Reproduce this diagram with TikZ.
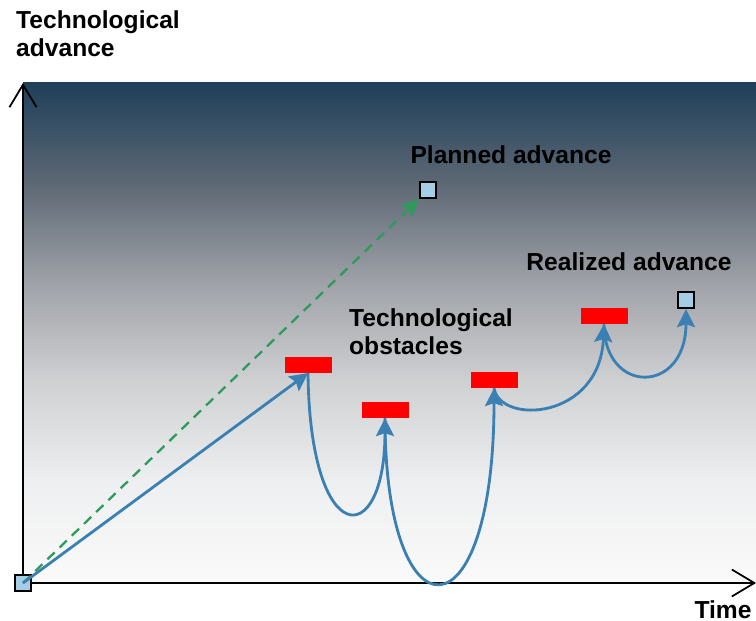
\documentclass[tikz,border=0pt]{standalone}
\usepackage{fontspec}
\setmainfont{Liberation Sans}
\usetikzlibrary{arrows.meta}
\definecolor{skytop}{HTML}{1F3F5A}
\definecolor{skyhi}{HTML}{5D6874}
\definecolor{skymid}{HTML}{9FA2A8}
\definecolor{skylow}{HTML}{D0D1D3}
\definecolor{skyfloor}{HTML}{EEEFF0}
\definecolor{skybot}{HTML}{FAFAFA}
\definecolor{pathblue}{HTML}{3A80B2}
\definecolor{plangreen}{HTML}{2F9A5C}
\definecolor{boxblue}{HTML}{A6CDE6}
\pgfdeclareverticalshading{sky}{100bp}{color(0bp)=(skybot); color(25bp)=(skybot); color(35bp)=(skyfloor); color(45bp)=(skylow); color(55bp)=(skymid); color(65bp)=(skyhi); color(75bp)=(skytop); color(100bp)=(skytop)}
\tikzset{
  lbl/.style={font=\fontsize{14}{16}\selectfont\bfseries, align=left},
  goal/.style={shape=rectangle, draw=black, line width=1.3pt, fill=boxblue, minimum size=0.32cm, inner sep=0pt},
  obstacle/.style={shape=rectangle, fill=red, minimum width=0.94cm, minimum height=0.31cm, inner sep=0pt},
  real/.style={draw=pathblue, line width=1.6pt, -{Stealth[length=0.36cm,width=0.36cm,inset=0.06cm]}},
  axis/.style={draw=black, line width=1pt, -{Straight Barb[length=0.45cm,width=0.54cm]}}
}
\begin{document}
\begin{tikzpicture}[x=0.02cm, y=-0.02cm]
  \useasboundingbox (0,0) rectangle (756,621);
  \shade[shading=sky] (23,83) rectangle (756,583);

  \coordinate (yend) at (23,83);
  \coordinate (xend) at (756,583);
  \coordinate (orig) at (23,583);
  \path [axis] (orig) -- (yend);
  \path [axis] (orig) -- (xend);

  \node[goal] (O) at (23,583) {};
  \node[goal] (P) at (428,190) {};
  \node[goal] (R) at (686,300) {};

  \node[obstacle] (ob1) at (308,365) {};
  \node[obstacle] (ob2) at (385,410) {};
  \node[obstacle] (ob3) at (494,380) {};
  \node[obstacle] (ob4) at (604,316) {};

  \draw [plangreen, line width=1.3pt, dash pattern=on 0.2cm off 0.14cm, -{Stealth[length=0.34cm,width=0.32cm,inset=0.05cm]}] (O.center) -- (P.south west);
  \path [real] (O.center) -- (ob1.south);
  \path [real] (ob1.south) .. controls (310,551) and (385,551) .. (ob2.south);
  \path [real] (ob2.south) .. controls (385,643) and (494,643) .. (ob3.south);
  \path [real] (ob3.south) .. controls (500,425) and (600,420) .. (ob4.south);
  \path [real] (ob4.south) .. controls (604,395) and (686,395) .. (R.south);

  \node[lbl, anchor=north west] (ylab) at (10,4) {Technological\\advance};
  \node[lbl] (plab) at (511,155) {Planned advance};
  \node[lbl] (rlab) at (629,262) {Realized advance};
  \node[lbl, anchor=west] (olab) at (343,332) {Technological\\obstacles};
  \node[lbl] (tlab) at (723,610) {Time};
\end{tikzpicture}
\end{document}
